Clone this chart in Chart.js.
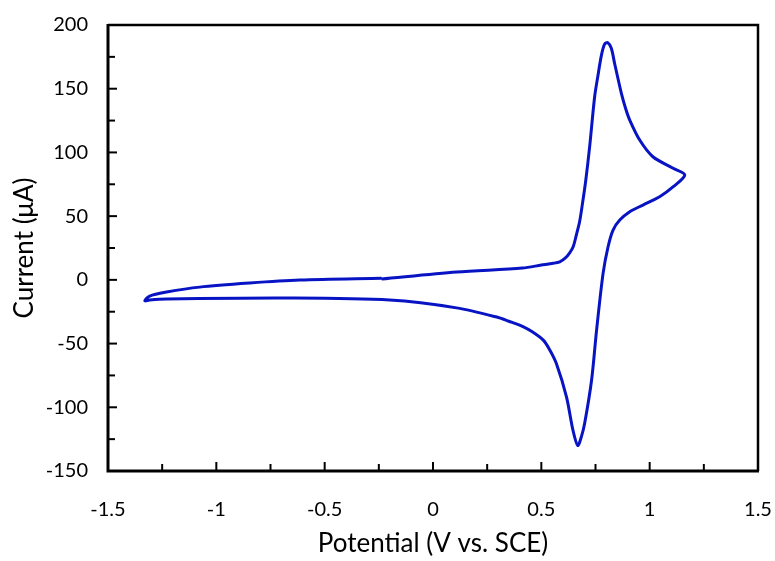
<!DOCTYPE html>
<html>
<head>
<meta charset="utf-8">
<script src="https://cdn.jsdelivr.net/npm/chart.js@4.4.0/dist/chart.umd.min.js"></script>
<style>
  html, body { margin: 0; padding: 0; background: #fff; }
</style>
</head>
<body>
<canvas id="grafica" width="775" height="561"></canvas>
<script>
// Datos del voltamperograma, en el orden del barrido (empieza en -0.24 V hacia positivo)
const potencialV = [
  -0.237, 0.109, 0.413, 0.5, 0.555, 0.585, 0.61, 0.63, 0.647, 0.662, 0.677, 0.69, 0.705, 0.723, 0.746,
  0.761, 0.777, 0.792, 0.807, 0.823, 0.838, 0.855, 0.87, 0.889, 0.908, 0.954, 1.015, 1.106, 1.162,
  1.109, 1.046, 0.969, 0.908, 0.862, 0.831, 0.808, 0.785, 0.755, 0.732, 0.7, 0.685, 0.668,
  0.646, 0.616, 0.569, 0.539, 0.509, 0.46, 0.413, 0.35, 0.294, 0.109, -0.2, -0.662, -1.23, -1.308, -1.33,
  -1.308, -1.23, -1.077, -0.846, -0.615, -0.237
];
const corrienteUA = [
  0.6, 6.1, 9.3, 11.6, 13, 14.2, 17, 21, 26, 35.5, 46, 60, 78, 104.5, 143.7,
  160, 176, 185, 186.1, 181.7, 170, 157, 146, 134.5, 125.4, 109.7, 96.6, 87.8, 82.3,
  73.1, 65.2, 58.7, 53.5, 46.9, 39.1, 26, 5.1, -39.4, -78.6, -112.6, -123, -130,
  -118, -91.8, -65.5, -55, -47.3, -41, -36.5, -32.5, -29.2, -22, -15.9, -14.3, -15, -15.8, -16.4,
  -12.7, -9.6, -5.7, -2.5, -0.2, 1.2
];
const ticksX = [-1.5, -1, -0.5, 0, 0.5, 1, 1.5];
const ticksY = [-150, -100, -50, 0, 50, 100, 150, 200];

const puntos = potencialV.map((v, i) => ({ x: v, y: corrienteUA[i] }));

// Marco y marcas hacia dentro, como en Excel
const marcoEjes = {
  id: 'marcoEjes',
  afterDatasetsDraw(chart) {
    const { ctx, chartArea: a, scales: { x, y } } = chart;
    ctx.save();
    ctx.strokeStyle = '#000';
    ctx.lineWidth = 2;
    const pasoY = (ticksY[1] - ticksY[0]) / 2;
    for (let v = ticksY[0] + pasoY; v < ticksY[ticksY.length - 1]; v += pasoY) {
      const py = y.getPixelForValue(v);
      const largo = ticksY.includes(v) ? 9 : 7;
      ctx.beginPath();
      ctx.moveTo(a.left, py);
      ctx.lineTo(a.left + largo, py);
      ctx.stroke();
    }
    const pasoX = (ticksX[1] - ticksX[0]) / 2;
    for (let v = ticksX[0] + pasoX; v < ticksX[ticksX.length - 1] - 1e-9; v += pasoX) {
      const px = x.getPixelForValue(v);
      const esMayor = ticksX.some(t => Math.abs(t - v) < 1e-9);
      const largo = esMayor ? 9 : 7;
      ctx.beginPath();
      ctx.moveTo(px, a.bottom);
      ctx.lineTo(px, a.bottom - largo);
      ctx.stroke();
    }
    // lados superior y derecho
    ctx.lineWidth = 2.5;
    ctx.beginPath();
    ctx.moveTo(a.left, a.top);
    ctx.lineTo(a.right, a.top);
    ctx.lineTo(a.right, a.bottom);
    ctx.stroke();
    // ejes izquierdo e inferior
    ctx.lineWidth = 3;
    ctx.beginPath();
    ctx.moveTo(a.left, a.top - 1);
    ctx.lineTo(a.left, a.bottom);
    ctx.lineTo(a.right + 1, a.bottom);
    ctx.stroke();
    ctx.restore();
  }
};

// Quita el relleno que Chart.js añade por el padding de las etiquetas
function fijarTamano(escala, ancho, alto) {
  if (ancho) escala.width = ancho;
  if (alto) escala.height = alto;
  escala.paddingLeft = 0;
  escala.paddingRight = 0;
  escala.paddingTop = 0;
  escala.paddingBottom = 0;
}

const fuente = 'Lato, "Noto Sans", sans-serif';

new Chart(document.getElementById('grafica'), {
  type: 'scatter',
  data: {
    datasets: [{
      data: puntos,
      showLine: true,
      borderColor: '#0814c4',
      borderWidth: 3,
      pointRadius: 0,
      tension: 0.3,
      fill: false
    }]
  },
  options: {
    responsive: false,
    animation: false,
    devicePixelRatio: 1,
    layout: { padding: { top: 25, right: 17, left: 0, bottom: 0 } },
    plugins: { legend: { display: false }, tooltip: { enabled: false } },
    scales: {
      x: {
        type: 'linear',
        min: ticksX[0],
        max: ticksX[ticksX.length - 1],
        afterFit: (escala) => fijarTamano(escala, 0, 90),
        afterBuildTicks: (escala) => { escala.ticks = ticksX.map(v => ({ value: v })); },
        grid: { display: false, drawTicks: false },
        border: { display: false },
        ticks: {
          color: '#000',
          padding: 27,
          maxRotation: 0,
          font: { family: fuente, size: 20 },
          callback: (v) => String(v)
        },
        title: {
          display: true,
          text: 'Potential (V vs. SCE)',
          color: '#000',
          font: { family: fuente, size: 26 },
          padding: { top: 0, bottom: 2 }
        }
      },
      y: {
        type: 'linear',
        min: ticksY[0],
        max: ticksY[ticksY.length - 1],
        afterFit: (escala) => fijarTamano(escala, 108, 0),
        afterBuildTicks: (escala) => { escala.ticks = ticksY.map(v => ({ value: v })); },
        grid: { display: false, drawTicks: false },
        border: { display: false },
        ticks: {
          color: '#000',
          padding: 20,
          font: { family: fuente, size: 20 },
          callback: (v) => String(v)
        },
        title: {
          display: true,
          text: 'Current (μA)',
          color: '#000',
          font: { family: fuente, size: 26 },
          padding: { top: 9, bottom: 0 }
        }
      }
    }
  },
  plugins: [marcoEjes]
});
</script>
</body>
</html>
